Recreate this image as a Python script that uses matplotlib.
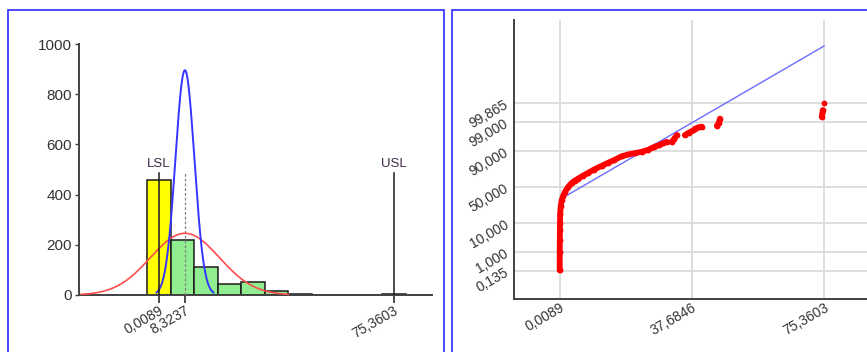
import matplotlib
matplotlib.use("Agg")
import matplotlib.pyplot as plt
import numpy as np
from statistics import NormalDist
from matplotlib.patches import Rectangle

plt.rcParams['font.family'] = ['Liberation Sans', 'DejaVu Sans']

# ---- capability histogram ----
bin_edges = [-3.75, 3.79, 11.33, 18.87, 26.41, 33.95, 41.49,
             49.03, 56.57, 64.11, 71.65, 79.19]
bin_counts = [458, 220, 110, 42, 53, 17, 3, 0, 0, 0, 2]
lsl = 0.0089
usl = 75.3603
mean = 8.3237
sigma_within = 3.04
sigma_overall = 11.07
hist_xticks = [0.0089, 8.3237, 75.3603]
hist_xtick_labels = ["0,0089", "8,3237", "75,3603"]
hist_yticks = [0, 200, 400, 600, 800, 1000]
hist_ytick_labels = ["0", "200", "400", "600", "800", "1000"]
spec_line_top = 485

# ---- normal probability plot ----
prob_x = [0.0089, 0.02, 0.04, 0.07, 0.09, 0.15, 0.3, 0.58, 1.0, 1.52,
          2.4, 3.43, 4.3, 5.32, 6.6, 8.0, 9.8, 11.98, 13.8, 15.6,
          17.68, 19.6, 21.5, 23.4, 25.2, 27.0, 28.3, 29.5, 30.5,
          31.9, 32.6, 33.4,
          35.7, 36.9, 38.1,
          38.6, 39.6, 40.5,
          44.8, 45.3, 45.7,
          74.7, 74.9, 75.0, 75.3603]
prob_pct = [0.15, 1.0, 3.0, 6.5, 10.0, 17.5, 25.0, 32.3, 38.0, 43.5,
            50.5, 56.3, 59.5, 62.4, 66.0, 69.5, 73.8, 77.9, 81.0, 83.6,
            86.7, 88.0, 89.0, 89.8, 91.0, 92.6, 93.4, 94.2, 94.8,
            94.8, 95.8, 96.9,
            96.9, 97.5, 97.9,
            98.2, 98.4, 98.5,
            98.6, 98.9, 99.3,
            99.41, 99.6, 99.71, 99.865]
prob_run = [0] * 29 + [1] * 3 + [2] * 3 + [3] * 3 + [4] * 3 + [5] * 3 + [6]
fit_mean = 5.985
fit_sigma = 13.74
prob_xticks = [0.0089, 37.6846, 75.3603]
prob_xtick_labels = ["0,0089", "37,6846", "75,3603"]
prob_yticks = [0.135, 1, 10, 50, 90, 99, 99.865]
prob_ytick_labels = ["0,135", "1,000", "10,000", "50,000", "90,000",
                     "99,000", "99,865"]

W, H = 867, 352
fig = plt.figure(figsize=(W / 100, H / 100), dpi=100)


def fx(px):
    return px / W


def fy(py):
    return 1 - py / H


# blue frames around the two panels
frame_kw = dict(fill=False, ec='#2b2bff', lw=1.2, transform=fig.transFigure)
fig.add_artist(Rectangle((fx(7.5), fy(360)), fx(444.3 - 7.5),
                         fy(10.3) - fy(360), **frame_kw))
fig.add_artist(Rectangle((fx(452.3), fy(360)), fx(430),
                         fy(10.0) - fy(360), **frame_kw))

axis_col = '#404040'
text_col = '#333333'

# ---------------- histogram panel ----------------
ax1 = fig.add_axes([fx(79), fy(295), fx(432 - 79), fy(44) - fy(295)])
ax1.set_xlim(-25.68, 87.65)
ax1.set_ylim(0, 1000)

edges = np.array(bin_edges)
widths = np.diff(edges)
colors = ['#ffff00' if left < lsl else '#90ee90' for left in edges[:-1]]
ax1.bar(edges[:-1], bin_counts, width=widths, align='edge', color=colors,
        edgecolor='#1a1a1a', lw=1.1, zorder=2)

n_total = sum(bin_counts)
bw = widths.mean()


def normal_curve(sigma):
    xs = np.linspace(mean - 3 * sigma, mean + 3 * sigma, 300)
    ys = n_total * bw * np.exp(-0.5 * ((xs - mean) / sigma) ** 2) / (sigma * np.sqrt(2 * np.pi))
    return xs, ys


xs, ys = normal_curve(sigma_overall)
ax1.plot(xs, ys, color='#ff4d4d', lw=1.2, zorder=4, clip_on=False)
xs, ys = normal_curve(sigma_within)
ax1.plot(xs, ys, color='#3535ff', lw=1.4, zorder=4, clip_on=False)

ax1.plot([mean, mean], [0, spec_line_top], color='#808080', lw=0.9,
         ls=(0, (2.2, 1.6)), zorder=3)
for pos, name in ((lsl, 'LSL'), (usl, 'USL')):
    ax1.plot([pos, pos], [0, spec_line_top], color='#1a1a1a', lw=1.1, zorder=5)
    ax1.text(pos, spec_line_top + 12, name, ha='center', va='bottom',
             fontsize=9.5, color='#3e2848')

for side in ('top', 'right'):
    ax1.spines[side].set_visible(False)
for side in ('left', 'bottom'):
    ax1.spines[side].set_color(axis_col)
    ax1.spines[side].set_linewidth(1.4)

ax1.set_yticks(hist_yticks, hist_ytick_labels)
ax1.tick_params(axis='y', length=3, width=1, color=axis_col, pad=2,
                labelsize=11, labelcolor=text_col)
ax1.set_xticks(hist_xticks, hist_xtick_labels)
ax1.tick_params(axis='x', length=6, width=1.1, color='#1a1a1a', pad=0,
                labelsize=10, labelcolor=text_col)
for lbl in ax1.get_xticklabels():
    lbl.set_rotation(30)
    lbl.set_ha('right')
    lbl.set_va('top')
    lbl.set_rotation_mode('anchor')

# ---------------- probability panel ----------------
nd = NormalDist()
ax2 = fig.add_axes([fx(514.3), fy(299.3), fx(867 - 514.3), fy(20) - fy(299.3)])
ax2.set_xlim(-12.93, 87.61)
ax2.set_ylim(-4.0, 5.98)

ax2.set_xticks(prob_xticks, prob_xtick_labels)
ax2.set_yticks([nd.inv_cdf(p / 100) for p in prob_yticks], prob_ytick_labels)
ax2.grid(True, color='#dadada', lw=1.3, zorder=0)
ax2.set_axisbelow(True)

fx_line = np.array([prob_x[0], prob_x[-1]])
ax2.plot(fx_line, (fx_line - fit_mean) / fit_sigma, color='#6b6bff',
         lw=1.0, zorder=2)

px = np.array(prob_x)
pz = np.array([nd.inv_cdf(p / 100) for p in prob_pct])
runs = np.array(prob_run)
for r in np.unique(runs):
    m = runs == r
    ax2.plot(px[m], pz[m], color='#ff0000', ls='-', lw=4.2, marker='o',
             ms=4.2, mew=0, solid_capstyle='round', solid_joinstyle='round',
             zorder=3)

for side in ('top', 'right'):
    ax2.spines[side].set_visible(False)
for side in ('left', 'bottom'):
    ax2.spines[side].set_color(axis_col)
    ax2.spines[side].set_linewidth(1.4)

ax2.tick_params(axis='both', length=0, labelsize=10, labelcolor=text_col)
ax2.tick_params(axis='x', pad=1)
ax2.tick_params(axis='y', pad=5)
for lbl in ax2.get_xticklabels():
    lbl.set_rotation(30)
    lbl.set_ha('right')
    lbl.set_va('top')
    lbl.set_rotation_mode('anchor')
for lbl in ax2.get_yticklabels():
    lbl.set_rotation(30)
    lbl.set_ha('right')
    lbl.set_va('center')
    lbl.set_rotation_mode('anchor')

fig.savefig('out.png', dpi=100)
